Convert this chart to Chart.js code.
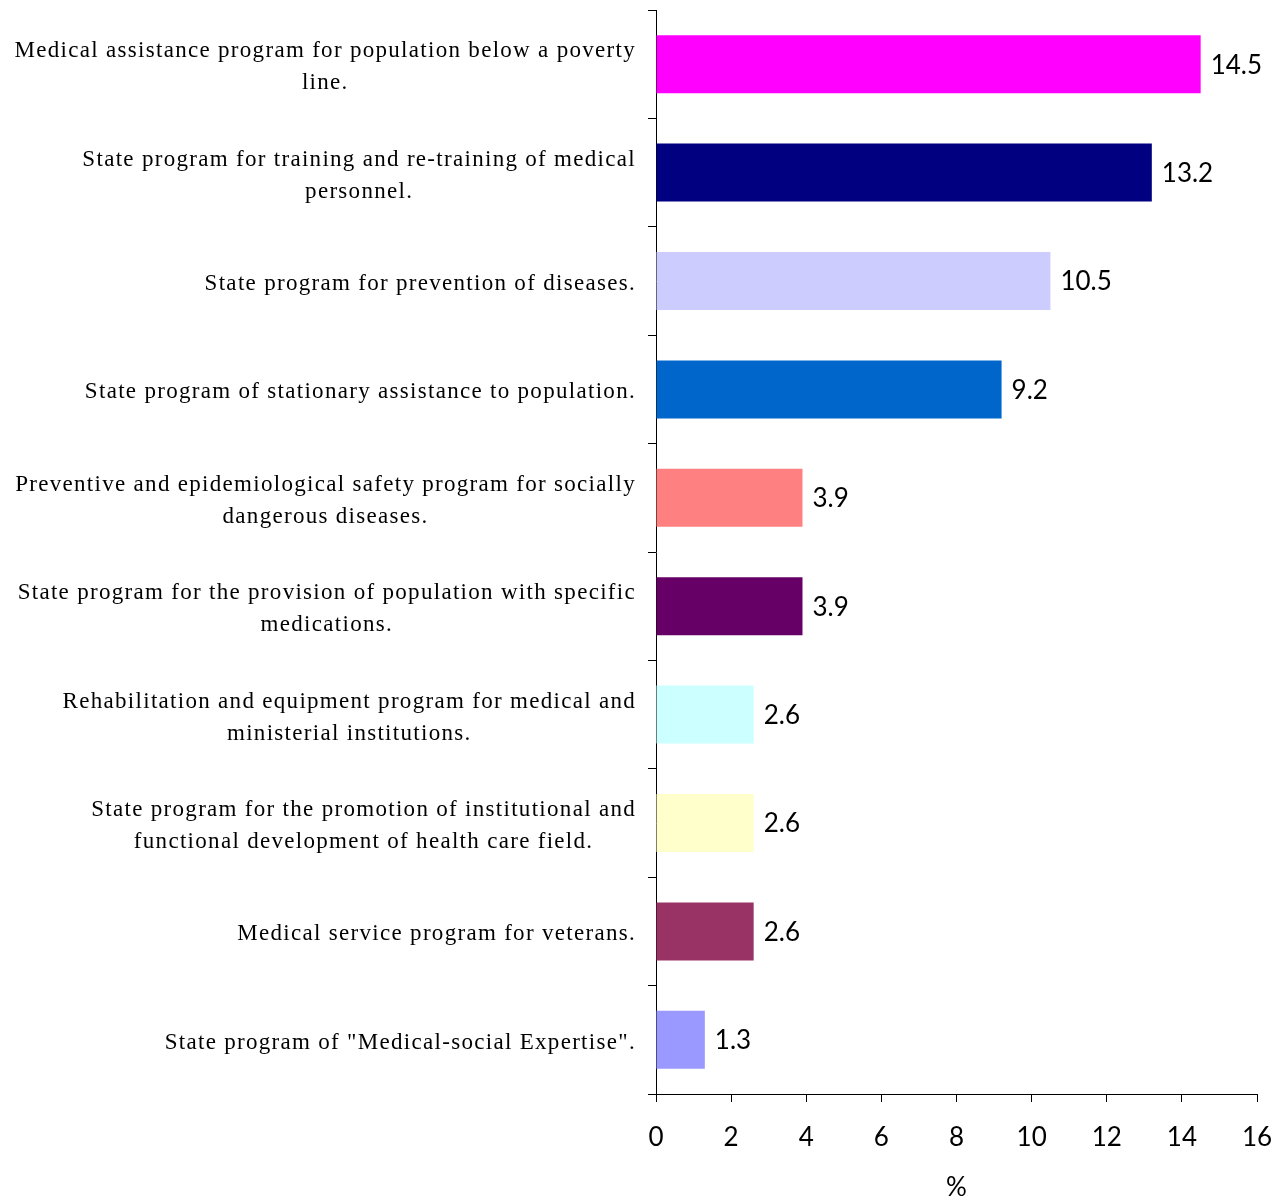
<!DOCTYPE html>
<html>
<head>
<meta charset="utf-8">
<title>Health programs</title>
<script src="https://cdn.jsdelivr.net/npm/chart.js@4/dist/chart.umd.min.js"></script>
<style>
  body { margin: 0; background: #fff; }
</style>
</head>
<body>
<canvas id="chart" width="1285" height="1203"></canvas>
<script>
const programs = [
  ["Medical assistance program for population below a poverty", "line."],
  ["State program for training and re-training of medical", "personnel."],
  ["State program for prevention of diseases."],
  ["State program of stationary assistance to population."],
  ["Preventive and epidemiological safety program for socially", "dangerous diseases."],
  ["State program for the provision of population with specific", "medications."],
  ["Rehabilitation and equipment program for medical and", "ministerial institutions."],
  ["State program for the promotion of institutional and", "functional development of health care field."],
  ["Medical service program for veterans."],
  ["State program of \"Medical-social Expertise\"."]
];
const shares = [14.5, 13.2, 10.5, 9.2, 3.9, 3.9, 2.6, 2.6, 2.6, 1.3];
const barColors = ["#ff00ff", "#000080", "#ccccff", "#0066cc", "#ff8080",
                   "#660066", "#ccffff", "#ffffcc", "#993366", "#9999ff"];
const xTicks = [0, 2, 4, 6, 8, 10, 12, 14, 16];

const serifFont = '23px "Liberation Serif", "Times New Roman", serif';
const numFont = { family: "Lato, sans-serif", size: 26 };

// category names, each block centred on its widest line, right edge near the axis
const categoryLabels = {
  id: "categoryLabels",
  afterDraw(chart) {
    const ctx = chart.ctx;
    const y = chart.scales.y;
    const right = y.right - 20;
    ctx.save();
    ctx.font = serifFont;
    ctx.letterSpacing = "1.3px";
    ctx.fillStyle = "#000";
    ctx.textAlign = "center";
    ctx.textBaseline = "middle";
    programs.forEach((lines, i) => {
      const w = Math.max(...lines.map(l => ctx.measureText(l).width));
      const cx = right - w / 2;
      const cy = y.getPixelForValue(i) + 3;
      lines.forEach((l, k) => {
        ctx.fillText(l, cx, cy + (k - (lines.length - 1) / 2) * 32);
      });
    });
    ctx.restore();
  }
};

// value printed just past the end of each bar
const valueLabels = {
  id: "valueLabels",
  afterDatasetsDraw(chart) {
    const ctx = chart.ctx;
    const meta = chart.getDatasetMeta(0);
    ctx.save();
    ctx.font = numFont.size + "px " + numFont.family;
    ctx.fillStyle = "#000";
    ctx.textAlign = "left";
    ctx.textBaseline = "middle";
    meta.data.forEach((bar, i) => {
      ctx.fillText(shares[i].toFixed(1), bar.x + 10, bar.y + 1);
    });
    ctx.restore();
  }
};

new Chart(document.getElementById("chart"), {
  type: "bar",
  data: {
    labels: programs,
    datasets: [{
      data: shares,
      backgroundColor: barColors,
      borderWidth: 0,
      barPercentage: 0.535,
      categoryPercentage: 1
    }]
  },
  options: {
    indexAxis: "y",
    responsive: false,
    animation: false,
    devicePixelRatio: 1,
    layout: { padding: { top: 10, right: 28, left: 0, bottom: 0 } },
    plugins: {
      legend: { display: false },
      tooltip: { enabled: false }
    },
    scales: {
      x: {
        min: 0,
        max: 16,
        afterBuildTicks(scale) {
          scale.ticks = xTicks.map(v => ({ value: v }));
        },
        afterFit(scale) {
          scale.height = 109;
          // keep the tick padding from pushing the plot edge inwards
          scale.paddingLeft = 0;
          scale.paddingRight = 0;
        },
        grid: { drawOnChartArea: false, drawTicks: true, tickLength: 8, color: "#000" },
        border: { color: "#000", width: 1 },
        ticks: { color: "#000", font: numFont, padding: 20, maxRotation: 0 },
        title: {
          display: true,
          text: "%",
          color: "#000",
          font: numFont,
          padding: 0
        }
      },
      y: {
        afterFit(scale) { scale.width = 656; },
        grid: { drawOnChartArea: false, drawTicks: true, tickLength: 8, color: "#000", offset: true },
        border: { color: "#000", width: 1 },
        ticks: { display: false }
      }
    }
  },
  plugins: [categoryLabels, valueLabels]
});
</script>
</body>
</html>
